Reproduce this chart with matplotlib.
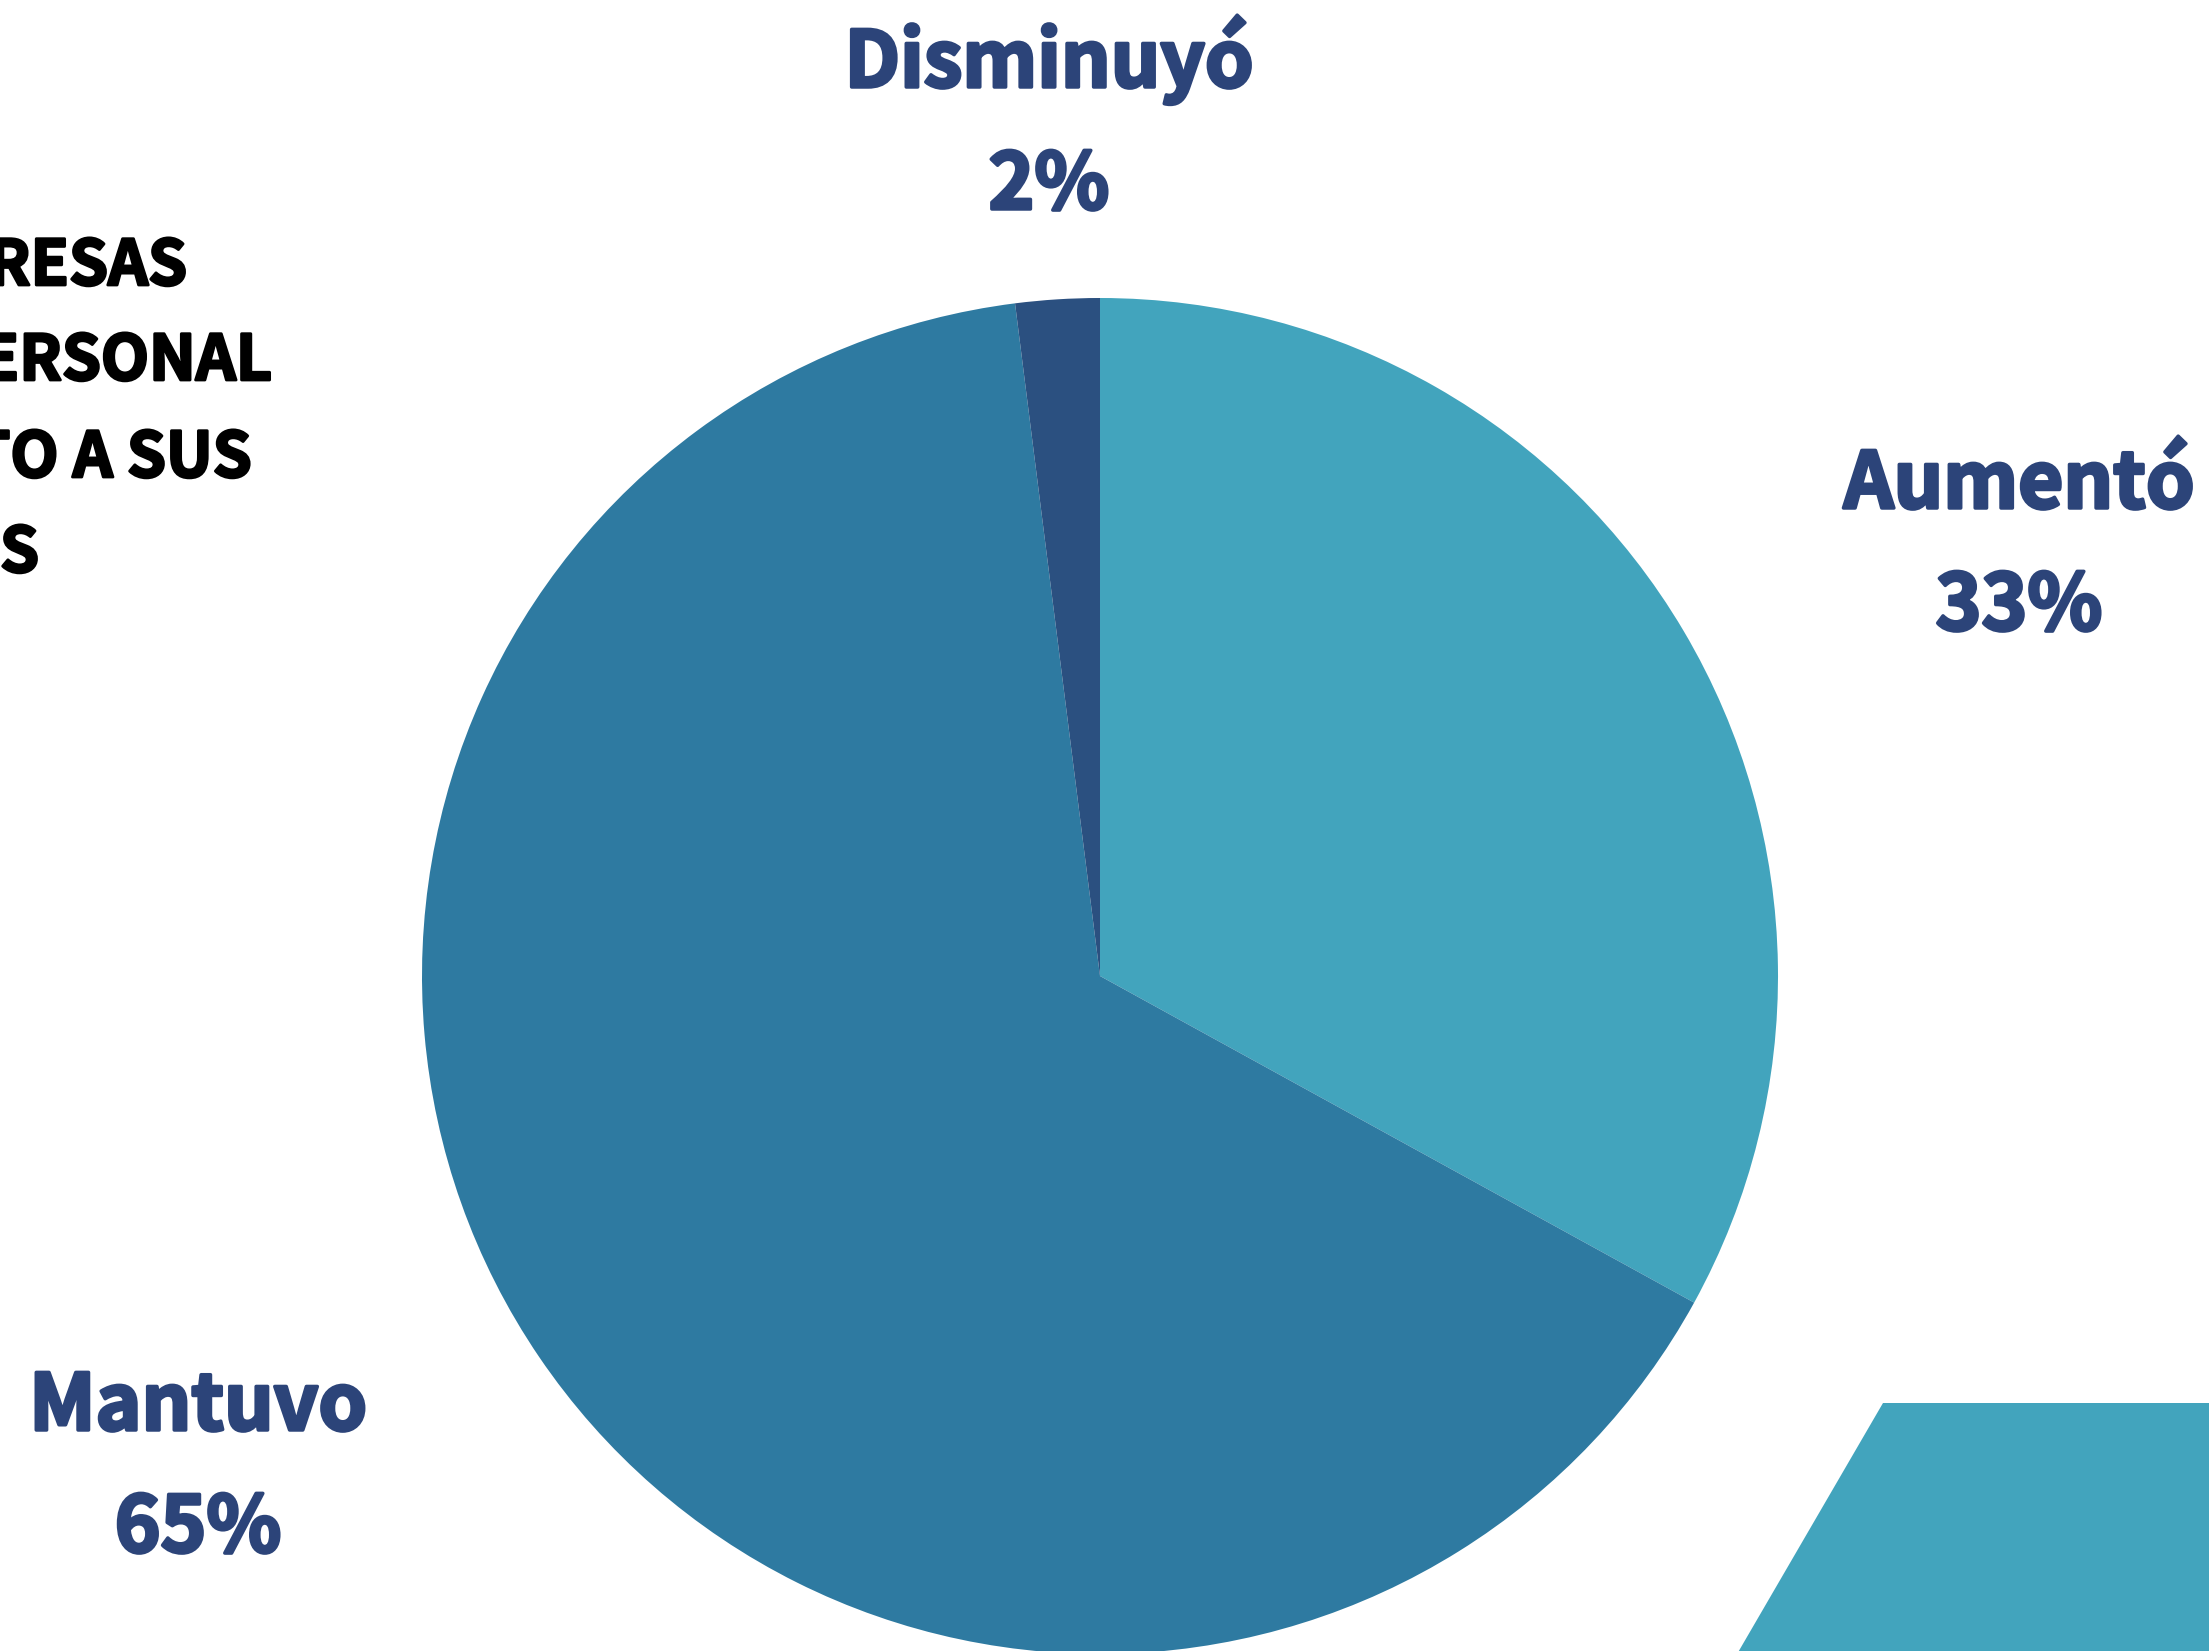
import matplotlib.pyplot as plt
import matplotlib.patheffects as pe
from matplotlib.patches import Polygon

plt.rcParams['font.family'] = ['Noto Sans CJK SC', 'DejaVu Sans']

# datos
categorias = ['Aumentó', 'Mantuvo', 'Disminuyó']
porcentajes = [33, 65, 2]
colores = ['#42A4BD', '#2E7AA1', '#2B5080']
titulo = ['EMPRESAS', 'PERSONAL', 'RESPECTO A SUS', 'AÑOS']

W, H = 2209, 1651
fig = plt.figure(figsize=(W / 100, H / 100), dpi=100)
ax = fig.add_axes([0, 0, 1, 1])

ax.pie(porcentajes, colors=colores, startangle=90, counterclock=False,
       center=(1100, H - 976), radius=678,
       wedgeprops=dict(linewidth=0))

# forma decorativa abajo a la derecha
ax.add_patch(Polygon([(1883, H - 1403), (W + 50, H - 1403), (W + 50, -10), (1733, -10)],
                     closed=True, facecolor='#42A4BD', edgecolor='none'))

# etiquetas (trazo extra para que se vean mas gruesas)
col_txt = '#2C4479'
grueso = [pe.withStroke(linewidth=2.5, foreground=col_txt)]
pos = {'Aumentó': (2019, 508), 'Mantuvo': (198, 1430), 'Disminuyó': (1049, 87)}
for cat, val in zip(categorias, porcentajes):
    x, y = pos[cat]
    ax.text(x, H - y, cat, ha='center', va='baseline', fontsize=56,
            fontweight='heavy', color=col_txt, path_effects=grueso)
    ax.text(x, H - y - 122, f'{val}%', ha='center', va='baseline', fontsize=56,
            fontweight='heavy', color=col_txt, path_effects=grueso)

# titulo recortado a la izquierda
negro = [pe.withStroke(linewidth=2, foreground='black')]
derechas = [187, 272, 252, 39]
bases = [285, 380, 477, 572]
for linea, xr, yb in zip(titulo, derechas, bases):
    ax.text(xr, H - yb, linea, ha='right', va='baseline', fontsize=45,
            fontweight='heavy', color='black', path_effects=negro)

ax.set_xlim(0, W)
ax.set_ylim(0, H)
ax.set_aspect('auto')
ax.axis('off')

fig.savefig('out.png', dpi=100)
